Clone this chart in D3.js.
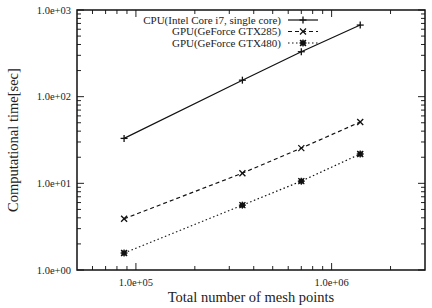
<html>
<head>
<meta charset="utf8">
<title>computational time</title>
<style>
body { margin:0; background:white; }
svg text { font-family: "Liberation Serif", "DejaVu Serif", serif; fill:#222; }
</style>
<script src="https://d3js.org/d3.v7.min.js"></script>
</head>
<body>
<div id="chart"></div>
<script>
// data
var meshPoints = [87000, 350000, 700000, 1400000];
var cpuTime = [33, 155, 330, 670];
var gtx285Time = [3.9, 13.1, 25.5, 51];
var gtx480Time = [1.57, 5.6, 10.6, 21.8];
var seriesNames = ["CPU(Intel Core i7, single core)", "GPU(GeForce GTX285)", "GPU(GeForce GTX480)"];
var xTickLabels = ["1.0e+05", "1.0e+06"];
var yTickLabels = ["1.0e+00", "1.0e+01", "1.0e+02", "1.0e+03"];

var width = 432, height = 308;
// plot box (note: "top" is taken by window.top)
var pLeft = 77, pRight = 425, pTop = 10, pBottom = 270;

var svg = d3.select("#chart").append("svg")
  .attr("width", width).attr("height", height);

var x = d3.scaleLog().domain([5e4, 3e6]).range([pLeft, pRight]);
var y = d3.scaleLog().domain([1, 1000]).range([pBottom, pTop]);

// ticks (inward, on all four sides)
var xMajor = [1e5, 1e6];
var xMinor = [];
[1e4, 1e5, 1e6].forEach(function(d){ for (var k = 2; k <= 9; k++) { var v = d*k; if (v > 5e4 && v < 3e6) xMinor.push(v); } });
var yMajor = [1, 10, 100, 1000];
var yMinor = [];
[1, 10, 100].forEach(function(d){ for (var k = 2; k <= 9; k++) yMinor.push(d*k); });

var tk = svg.append("g").attr("stroke", "#222").attr("stroke-width", 1);
function xt(v, len) {
  tk.append("line").attr("x1", x(v)).attr("x2", x(v)).attr("y1", pBottom).attr("y2", pBottom - len);
  tk.append("line").attr("x1", x(v)).attr("x2", x(v)).attr("y1", pTop).attr("y2", pTop + len);
}
function yt(v, len) {
  tk.append("line").attr("y1", y(v)).attr("y2", y(v)).attr("x1", pLeft).attr("x2", pLeft + len);
  tk.append("line").attr("y1", y(v)).attr("y2", y(v)).attr("x1", pRight).attr("x2", pRight - len);
}
xMajor.forEach(function(v){ xt(v, 7); });
xMinor.forEach(function(v){ xt(v, 4); });
yMajor.forEach(function(v){ yt(v, 7); });
yMinor.forEach(function(v){ yt(v, 4); });

// border
svg.append("rect").attr("x", pLeft).attr("y", pTop)
  .attr("width", pRight - pLeft).attr("height", pBottom - pTop)
  .attr("fill", "none").attr("stroke", "#111").attr("stroke-width", 1.5);

// tick labels
svg.selectAll(".ylab").data(yMajor).enter().append("text")
  .attr("x", pLeft - 6).attr("y", function(d){ return y(d) + 3.5; })
  .attr("text-anchor", "end").attr("font-size", 10.5)
  .text(function(d, i){ return yTickLabels[i]; });
svg.selectAll(".xlab").data(xMajor).enter().append("text")
  .attr("x", function(d){ return x(d); }).attr("y", pBottom + 16)
  .attr("text-anchor", "middle").attr("font-size", 10.5)
  .text(function(d, i){ return xTickLabels[i]; });

// axis titles
svg.append("text").attr("x", (pLeft + pRight) / 2).attr("y", 302)
  .attr("text-anchor", "middle").attr("font-size", 14.5)
  .text("Total number of mesh points");
svg.append("text").attr("transform", "translate(18," + ((pTop + pBottom) / 2) + ") rotate(-90)")
  .attr("text-anchor", "middle").attr("font-size", 14.5)
  .text("Computational time[sec]");

// series
var series = [
  { name: seriesNames[0], vals: cpuTime, dash: null, mark: "plus" },
  { name: seriesNames[1], vals: gtx285Time, dash: "4,3", mark: "cross" },
  { name: seriesNames[2], vals: gtx480Time, dash: "1.5,2.5", mark: "star" }
];

var line = d3.line()
  .x(function(d){ return x(d[0]); })
  .y(function(d){ return y(d[1]); });

function marker(g, cx, cy, type) {
  var s = 3.5;
  var p = g.append("g").attr("stroke", "#111").attr("stroke-width", 1.3);
  if (type === "plus" || type === "star") {
    p.append("line").attr("x1", cx - s).attr("x2", cx + s).attr("y1", cy).attr("y2", cy);
    p.append("line").attr("x1", cx).attr("x2", cx).attr("y1", cy - s).attr("y2", cy + s);
  }
  if (type === "cross" || type === "star") {
    var t = 3;
    p.append("line").attr("x1", cx - t).attr("x2", cx + t).attr("y1", cy - t).attr("y2", cy + t);
    p.append("line").attr("x1", cx - t).attr("x2", cx + t).attr("y1", cy + t).attr("y2", cy - t);
  }
  if (type === "star") {
    p.append("rect").attr("x", cx - 2.5).attr("y", cy - 2.5).attr("width", 5).attr("height", 5).attr("fill", "#111").attr("stroke", "none");
  }
}

series.forEach(function(s, i) {
  var pts = meshPoints.map(function(m, j){ return [m, s.vals[j]]; });
  var g = svg.append("g");
  g.append("path").datum(pts).attr("d", line)
    .attr("fill", "none").attr("stroke", "#111").attr("stroke-width", 1.2)
    .attr("stroke-dasharray", s.dash);
  pts.forEach(function(p){ marker(g, x(p[0]), y(p[1]), s.mark); });

  // legend row
  var ly = 20 + i * 11.5;
  svg.append("text").attr("x", 281).attr("y", ly + 3.5)
    .attr("text-anchor", "end").attr("font-size", 11)
    .text(s.name);
  g.append("line").attr("x1", 288).attr("x2", 318).attr("y1", ly).attr("y2", ly)
    .attr("stroke", "#111").attr("stroke-width", 1.2).attr("stroke-dasharray", s.dash);
  marker(g, 303, ly, s.mark);
});
</script>
</body>
</html>
